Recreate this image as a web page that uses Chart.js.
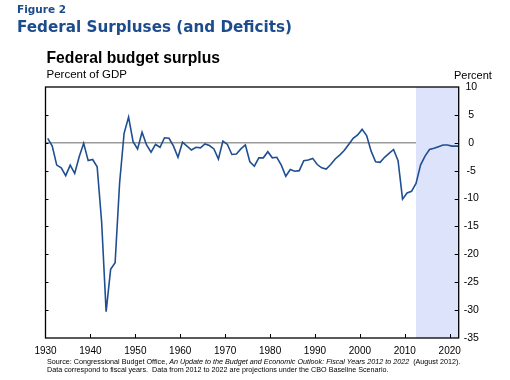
<!DOCTYPE html>
<html>
<head>
<meta charset="utf-8">
<script src="https://cdn.jsdelivr.net/npm/chart.js@4.4.1/dist/chart.umd.min.js"></script>
<style>
  html, body { margin:0; padding:0; background:#fff; }
  #wrap { position:relative; width:510px; height:380px; overflow:hidden; }
  #c { position:absolute; left:0; top:0; }
  .t { position:absolute; white-space:nowrap; }
  #fig { left:17px; top:4.4px; font:bold 10.5px/10.5px "DejaVu Sans"; color:#1c4c8c; }
  #title { left:17px; top:20.4px; font:bold 15.2px/15.2px "DejaVu Sans"; color:#1c4c8c; }
  #sub { left:46.5px; top:50.2px; font:bold 15.7px/15.7px "Liberation Sans"; color:#000; }
  #unitL { left:46.5px; top:69.3px; font:11.5px/11.5px "Liberation Sans"; color:#000; }
  #unitR { left:454px; top:69.7px; font:11px/11px "Liberation Sans"; color:#000; }
  #src { left:47px; top:357.8px; font:7.2px/7.7px "Liberation Sans"; color:#000; }
</style>
</head>
<body>
<div id="wrap">
  <canvas id="c" width="510" height="380"></canvas>
  <div class="t" id="fig">Figure 2</div>
  <div class="t" id="title">Federal Surpluses (and Deficits)</div>
  <div class="t" id="sub">Federal budget surplus</div>
  <div class="t" id="unitL">Percent of GDP</div>
  <div class="t" id="unitR">Percent</div>
  <div class="t" id="src">Source: Congressional Budget Office, <i>An Update to the Budget and Economic Outlook: Fiscal Years 2012 to 2022</i>&nbsp; (August 2012).<br>Data correspond to fiscal years.&nbsp; Data from 2012 to 2022 are projections under the CBO Baseline Scenario.</div>
</div>
<script>
// ---- data ----
const years = [
  1930,1931,1932,1933,1934,1935,1936,1937,1938,1939,
  1940,1941,1942,1943,1944,1945,1946,1947,1948,1949,
  1950,1951,1952,1953,1954,1955,1956,1957,1958,1959,
  1960,1961,1962,1963,1964,1965,1966,1967,1968,1969,
  1970,1971,1972,1973,1974,1975,1976,1977,1978,1979,
  1980,1981,1982,1983,1984,1985,1986,1987,1988,1989,
  1990,1991,1992,1993,1994,1995,1996,1997,1998,1999,
  2000,2001,2002,2003,2004,2005,2006,2007,2008,2009,
  2010,2011,2012,2013,2014,2015,2016,2017,2018,2019,
  2020,2021,2022
];
const surplus = [
  0.8,-0.6,-4.0,-4.5,-5.9,-4.0,-5.5,-2.5,-0.1,-3.2,
  -3.0,-4.3,-14.2,-30.3,-22.7,-21.5,-7.2,1.7,4.6,0.2,
  -1.1,1.9,-0.4,-1.7,-0.3,-0.8,0.9,0.8,-0.6,-2.6,
  0.1,-0.6,-1.3,-0.8,-0.9,-0.2,-0.5,-1.1,-2.9,0.3,
  -0.3,-2.1,-2.0,-1.1,-0.4,-3.4,-4.2,-2.7,-2.7,-1.6,
  -2.7,-2.6,-4.0,-6.0,-4.8,-5.1,-5.0,-3.2,-3.1,-2.8,
  -3.9,-4.5,-4.7,-3.9,-2.9,-2.2,-1.4,-0.3,0.8,1.4,
  2.4,1.3,-1.5,-3.4,-3.5,-2.6,-1.9,-1.2,-3.2,-10.1,
  -9.0,-8.7,-7.3,-4.0,-2.4,-1.2,-1.0,-0.7,-0.4,-0.4,
  -0.6,-0.6,-0.6
];
const xTickLabels = [1930,1940,1950,1960,1970,1980,1990,2000,2010,2020];
const yTickLabels = [10,5,0,-5,-10,-15,-20,-25,-30,-35];
const projectionStart = 2012.5;
const axisMin = 1930, axisMax = 2022;

// style constants
const midYear = 0.5;
const lineColor = '#1f4f91';
const shadeColor = '#dde3fb';

const framePlugin = {
  id: 'frame',
  beforeDatasetsDraw(chart) {
    const {ctx, chartArea: a, scales: {x}} = chart;
    const xs = x.getPixelForValue(projectionStart);
    ctx.save();
    ctx.fillStyle = shadeColor;
    ctx.fillRect(xs, a.top, a.right - xs, a.bottom - a.top);
    ctx.restore();
  },
  afterDraw(chart) {
    const {ctx, chartArea: a, scales: {x, y}} = chart;
    ctx.save();
    ctx.strokeStyle = '#000';
    ctx.lineWidth = 1;
    ctx.beginPath();
    x.ticks.forEach(t => {
      if (t.value <= axisMin || t.value >= axisMax) return;
      const px = Math.round(x.getPixelForValue(t.value)) + 0.5;
      ctx.moveTo(px, a.bottom); ctx.lineTo(px, a.bottom - 4);
    });
    y.ticks.forEach(t => {
      if (t.value >= 10 || t.value <= -35) return;
      const py = Math.round(y.getPixelForValue(t.value)) + 0.5;
      ctx.moveTo(a.left, py); ctx.lineTo(a.left + 3, py);
      ctx.moveTo(a.right, py); ctx.lineTo(a.right - 4, py);
    });
    ctx.stroke();
    ctx.lineWidth = 1.3;
    ctx.strokeRect(a.left, a.top, a.right - a.left, a.bottom - a.top);
    ctx.restore();
  }
};

new Chart(document.getElementById('c'), {
  type: 'line',
  data: {
    datasets: [{
      data: years.map((yr, i) => ({x: yr + midYear, y: surplus[i]})),
      borderColor: lineColor,
      borderWidth: 1.6,
      pointRadius: 0,
      tension: 0,
      fill: false
    }]
  },
  options: {
    responsive: false,
    animation: false,
    devicePixelRatio: 1,
    layout: { padding: { left: 45.5, right: 11.3, top: 87, bottom: 22 } },
    plugins: { legend: { display: false }, tooltip: { enabled: false } },
    scales: {
      x: {
        type: 'linear',
        min: axisMin, max: axisMax,
        afterBuildTicks: s => { s.ticks = xTickLabels.map(v => ({value: v})); },
        afterFit: s => { s.height = 20; },
        grid: { display: false, drawTicks: false },
        border: { display: false },
        ticks: {
          autoSkip: false, maxRotation: 0, padding: 7,
          color: '#000', font: { family: 'Liberation Sans', size: 10 },
          callback: v => String(v)
        }
      },
      y: {
        position: 'right',
        min: -35, max: 10,
        afterBuildTicks: s => { s.ticks = yTickLabels.map(v => ({value: v})); },
        afterFit: s => { s.width = 40; },
        grid: {
          drawTicks: false,
          color: c => (c.tick && c.tick.value === 0) ? '#9a9a9a' : 'rgba(0,0,0,0)',
          lineWidth: 1.5
        },
        border: { display: false },
        ticks: {
          padding: 5, crossAlign: 'center',
          color: '#000', font: { family: 'Liberation Sans', size: 10.5 },
          callback: v => String(v)
        }
      }
    }
  },
  plugins: [framePlugin]
});
</script>
</body>
</html>
